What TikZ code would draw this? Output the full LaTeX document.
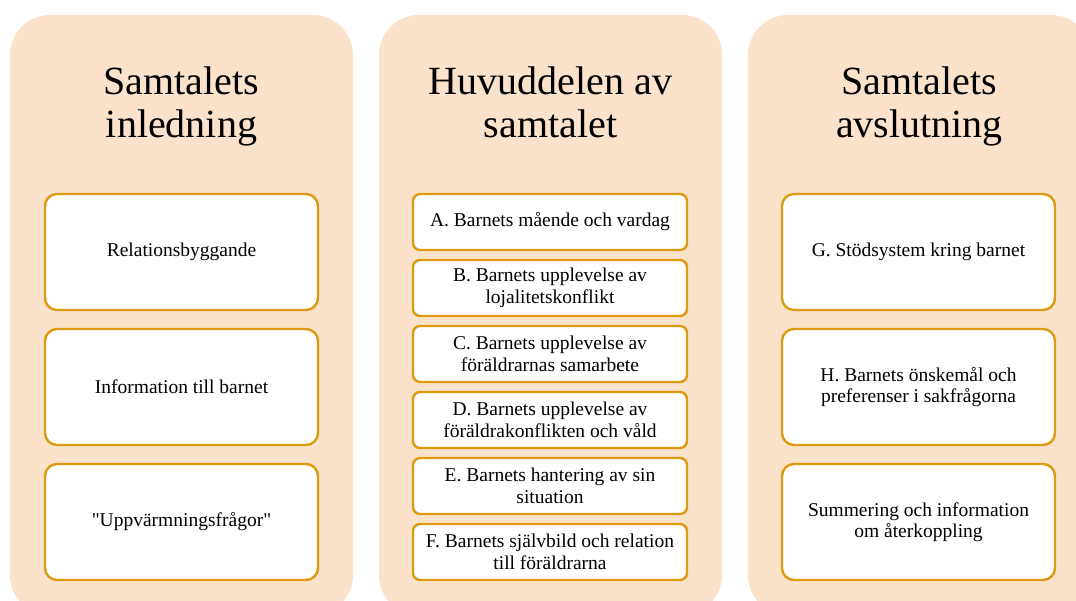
\documentclass[tikz,border=0pt]{standalone}
\usepackage{fontspec}
\setmainfont{Liberation Serif}
\newfontfamily\plainserif{Liberation Serif}
\definecolor{panelfill}{RGB}{251,226,203}
\definecolor{goldline}{RGB}{223,155,16}
\begin{document}
\begin{tikzpicture}[x=1pt,y=-1pt,
  panelbg/.style={fill=panelfill,rounded corners=40pt},
  title/.style={font=\fontsize{40}{43}\selectfont,align=center,inner sep=0pt},
  bigbox/.style={draw=goldline,line width=2.4pt,fill=white,rounded corners=12pt,
    minimum width=273pt,minimum height=116pt,align=center,font=\fontsize{19.5}{21.5}\selectfont,inner sep=2pt},
  smallbox/.style={draw=goldline,line width=2.4pt,fill=white,rounded corners=7pt,
    minimum width=274pt,minimum height=56pt,align=center,font=\fontsize{19.5}{21.5}\selectfont,inner sep=1pt}]
\useasboundingbox (0,0) rectangle (1076,600);
\clip (0,0) rectangle (1076,600);
% panels
\path[panelbg] (10,15) rectangle (353,615);
\path[panelbg] (379,15) rectangle (722,615);
\path[panelbg] (748,15) rectangle (1091,615);
% titles
\node[title,anchor=base] (t1) at (181.5,94) {Samtalets};
\node[title,anchor=base] (t1b) at (181.5,137) {inledning};
\node[title,anchor=base] (t2) at (550.5,94) {Huvuddelen av};
\node[title,anchor=base] (t2b) at (550.5,137) {samtalet};
\node[title,anchor=base] (t3) at (919.5,94) {Samtalets};
\node[title,anchor=base] (t3b) at (919.5,137) {avslutning};
% column 1
\node[bigbox] (a1) at (181.5,252) {Relationsbyggande};
\node[bigbox] (a2) at (181.5,387) {Information till barnet};
\node[bigbox] (a3) at (181.5,522) {{\plainserif"}Uppvärmningsfrågor{\plainserif"}};
% column 2
\node[smallbox] (bA) at (550,222) {A. Barnets mående och vardag};
\node[smallbox] (bB) at (550,288) {B. Barnets upplevelse av\\lojalitetskonflikt};
\node[smallbox] (bC) at (550,354) {C. Barnets upplevelse av\\föräldrarnas samarbete};
\node[smallbox] (bD) at (550,420) {D. Barnets upplevelse av\\föräldrakonflikten och våld};
\node[smallbox] (bE) at (550,486) {E. Barnets hantering av sin\\situation};
\node[smallbox] (bF) at (550,552) {F. Barnets självbild och relation\\till föräldrarna};
% column 3
\node[bigbox] (c1) at (918.5,252) {G. Stödsystem kring barnet};
\node[bigbox] (c2) at (918.5,387) {H. Barnets önskemål och\\preferenser i sakfrågorna};
\node[bigbox] (c3) at (918.5,522) {Summering och information\\om återkoppling};
\end{tikzpicture}
\end{document}
